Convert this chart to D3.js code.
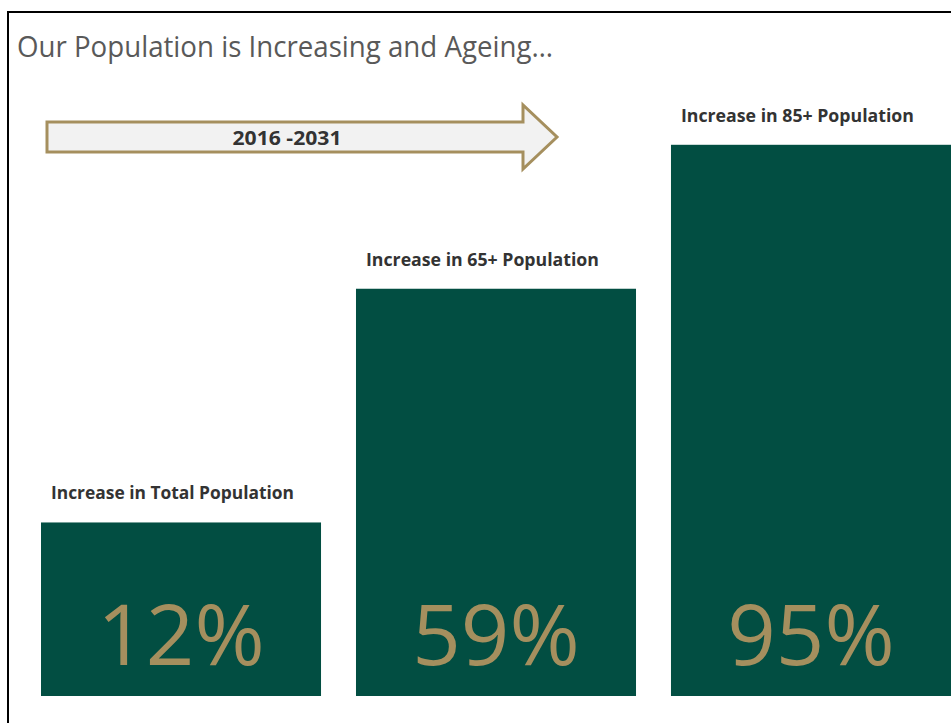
<!DOCTYPE html>
<html>
<head>
<meta charset="utf-8">
<script src="https://cdn.jsdelivr.net/npm/d3@7"></script>
<style>
  body { margin: 0; background: #fff; }
  svg { display: block; }
</style>
</head>
<body>
<div id="chart"></div>
<script type="text/javascript">
  const width = 951,
    height = 723;

  // data
  const title = "Our Population is Increasing and Ageing\u2026";
  const period = "2016 -2031";
  const categories = ["Increase in Total Population", "Increase in 65+ Population", "Increase in 85+ Population"];
  const values = [12, 59, 95];

  const barColor = "#024e42",
    gold = "#a58f5e",
    labelColor = "#333333";

  const svg = d3.select("#chart").append("svg")
    .attr("width", width)
    .attr("height", height);

  // frame round the slide
  svg.append("path")
    .attr("d", "M8," + height + "V12H" + width)
    .attr("fill", "none")
    .attr("stroke", "#000")
    .attr("stroke-width", 2);

  svg.append("text")
    .attr("x", 17)
    .attr("y", 57)
    .attr("font-family", "Open Sans")
    .attr("font-size", 29)
    .attr("fill", "#595959")
    .attr("textLength", 536)
    .attr("lengthAdjust", "spacingAndGlyphs")
    .text(title);

  // the period arrow
  const arrow = svg.append("g");
  const ax0 = 47, ax1 = 523, ax2 = 557, ay = 137;
  arrow.append("path")
    .attr("d", "M" + ax0 + "," + (ay - 15) + "H" + ax1 + "V" + (ay - 32) + "L" + ax2 + "," + ay +
      "L" + ax1 + "," + (ay + 32) + "V" + (ay + 15) + "H" + ax0 + "Z")
    .attr("fill", "#f2f2f2")
    .attr("stroke", gold)
    .attr("stroke-width", 3);
  arrow.append("text")
    .attr("x", 287)
    .attr("y", 145)
    .attr("text-anchor", "middle")
    .attr("font-family", "Open Sans")
    .attr("font-weight", "bold")
    .attr("font-size", 20)
    .attr("fill", labelColor)
    .attr("textLength", 109)
    .attr("lengthAdjust", "spacingAndGlyphs")
    .text(period);

  const x = d3.scaleBand()
    .domain(categories)
    .range([41, 951])
    .paddingInner(0.111)
    .paddingOuter(0);

  // bars stand on a common base; heights on the slide are not linear in the value
  const base = 696;
  const y = d3.scalePow()
    .exponent(0.75)
    .domain([0, 100])
    .range([624, 126]);

  const bars = svg.append("g");

  bars.selectAll("rect")
    .data(values)
    .enter()
    .append("rect")
    .attr("x", function(d, i) { return x(categories[i]); })
    .attr("y", function(d) { return y(d); })
    .attr("width", x.bandwidth())
    .attr("height", function(d) { return base - y(d); })
    .attr("fill", barColor);

  bars.selectAll("text.label")
    .data(values)
    .enter()
    .append("text")
    .attr("class", "label")
    .attr("x", function(d, i) { return x(categories[i]) + 10; })
    .attr("y", function(d) { return y(d) - 23; })
    .attr("font-family", "Open Sans")
    .attr("font-weight", "bold")
    .attr("font-size", 17)
    .attr("fill", labelColor)
    .attr("textLength", function(d, i) { return i === 0 ? 243 : 233; })
    .attr("lengthAdjust", "spacingAndGlyphs")
    .text(function(d, i) { return categories[i]; });

  bars.selectAll("text.value")
    .data(values)
    .enter()
    .append("text")
    .attr("class", "value")
    .attr("x", function(d, i) { return x(categories[i]) + x.bandwidth() / 2; })
    .attr("y", base - 31)
    .attr("text-anchor", "middle")
    .attr("font-family", "Open Sans")
    .attr("font-size", 85)
    .attr("fill", gold)
    .text(function(d) { return d + "%"; });
</script>
</body>
</html>
